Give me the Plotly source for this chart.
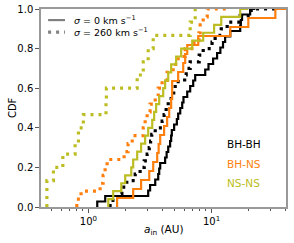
import numpy as np
import plotly.graph_objects as go

# Sorted inner semi-major axes (AU) for each population; CDF steps drawn from them
bhbh_s0 = [1.18, 1.37, 3.06, 3.17, 3.49, 3.69, 3.76, 3.83, 4.20, 4.32, 4.45, 4.61, 4.70,
           4.76, 4.97, 5.23, 5.36, 5.57, 5.78, 5.92, 6.35, 6.71, 7.10, 7.37, 8.89, 9.45,
           10.3, 11.1, 11.8, 12.4, 12.9, 14.2, 17.1, 17.3, 17.7, 20.6, 22.7]
bhbh_s260 = [1.50, 1.73, 1.87, 2.05, 2.40, 2.63, 2.84, 3.00, 3.12, 3.20, 3.27, 3.49, 3.97,
             4.12, 4.28, 4.45, 4.70, 4.93, 5.07, 6.05, 6.23, 6.71, 7.94, 8.56, 10.1, 10.7,
             12.0, 13.4, 17.1, 21.0, 35.5]
bhns_s0 = [1.71, 2.31, 2.68, 3.12, 3.36, 3.62, 3.72, 3.83, 4.12, 4.36, 4.53, 4.70, 4.79,
           4.79, 5.36, 5.89, 6.11, 6.35, 7.80, 14.2, 19.9, 33.0, 45.0]
bhns_s260 = [0.805, 0.872, 1.245, 1.317, 1.367, 1.419, 1.95, 2.10, 2.27, 2.79, 2.89, 3.00,
             3.17, 3.49, 3.69, 3.97, 4.36, 4.88, 5.36, 6.11, 7.21, 7.91, 8.09, 8.56, 9.23, 14.2]
nsns_s0 = [1.45, 1.59, 1.85, 1.99, 2.23, 2.31, 2.49, 2.68, 2.89, 3.06, 3.30, 3.42, 3.55,
           3.76, 4.05, 4.20, 4.45, 4.70, 5.16, 5.67, 6.97, 8.56, 10.5, 12.0, 17.1, 19.9]
nsns_s260 = [0.46, 0.46, 0.52, 0.62, 0.78, 0.83, 0.91, 1.39, 1.40, 2.49, 2.79, 3.06, 3.36,
             6.71, 7.37, 8.09]

populations = ["BH-BH", "BH-NS", "NS-NS"]
colors = ["#000000", "#ff7f0e", "#bcbd22"]
series = {"BH-BH": (bhbh_s0, bhbh_s260), "BH-NS": (bhns_s0, bhns_s260), "NS-NS": (nsns_s0, nsns_s260)}
legend_labels = ["<i>σ</i> = 0 km s<sup>−1</sup>", "<i>σ</i> = 260 km s<sup>−1</sup>"]
x_ticks = [1, 10]
x_ticktext = ["10<sup>0</sup>", "10<sup>1</sup>"]
x_minor = [0.5, 0.6, 0.7, 0.8, 0.9, 2, 3, 4, 5, 6, 7, 8, 9, 20, 30, 40]
y_ticks = [0.0, 0.2, 0.4, 0.6, 0.8, 1.0]

DOT = "3px,5px"
fig = go.Figure()
for pop, col in zip(populations, colors):
    s0, s260 = series[pop]
    for vals, dash, w in ((s0, "solid", 2.2), (s260, DOT, 3.2)):
        x = np.sort(np.array(vals))
        y = np.arange(len(x)) / (len(x) - 1)
        fig.add_trace(go.Scatter(x=x, y=y, mode="lines", line_shape="vh",
                                 line=dict(color=col, width=w, dash=dash),
                                 showlegend=False, hoverinfo="skip"))

FONT = "DejaVu Sans"
axis_col = "#999999"
fig.update_layout(
    width=294, height=243,
    margin=dict(l=41, r=8, t=9, b=36, autoexpand=False),
    paper_bgcolor="white", plot_bgcolor="white",
    font=dict(family=FONT, size=10, color="black"),
    showlegend=False,
)
fig.update_xaxes(type="log", range=[-0.385, 1.605], showgrid=False, zeroline=False,
                 automargin=False,
                 showline=True, mirror=True, linecolor=axis_col, linewidth=1.5,
                 ticks="outside", ticklen=4, tickwidth=1, tickcolor="#555555",
                 tickvals=x_ticks, ticktext=x_ticktext, tickfont=dict(size=10),
                 minor=dict(tickvals=x_minor, ticks="outside", ticklen=2,
                            tickcolor="#555555", tickwidth=0.8, showgrid=False))
fig.update_yaxes(range=[0, 1], showgrid=False, zeroline=False, automargin=False,
                 showline=True, mirror=True, linecolor=axis_col, linewidth=1.5,
                 ticks="outside", ticklen=4, tickwidth=1, tickcolor="#555555",
                 tickvals=y_ticks, tickformat=".1f", tickfont=dict(size=10))

# axis titles
fig.add_annotation(text="CDF", xref="paper", yref="paper", x=-0.118, y=0.5,
                   textangle=-90, showarrow=False, font=dict(size=10),
                   xanchor="center", yanchor="middle")
fig.add_annotation(text="<i>a</i><sub>in</sub> (AU)", xref="paper", yref="paper",
                   x=0.5, y=-0.118, showarrow=False, font=dict(size=10.5),
                   xanchor="center", yanchor="middle")

# legend for line styles
for i, (lab, dash, w) in enumerate(zip(legend_labels, ["solid", DOT], [2.2, 3.2])):
    yp = 0.944 - i * 0.061
    fig.add_shape(type="line", xref="paper", yref="paper", x0=0.029, x1=0.098,
                  y0=yp, y1=yp, line=dict(color="#808080", width=w, dash=dash))
    fig.add_annotation(text=lab, xref="paper", yref="paper", x=0.125, y=yp,
                       showarrow=False, xanchor="left", yanchor="middle",
                       font=dict(size=9.5))

# population labels
for i, (pop, col) in enumerate(zip(populations, colors)):
    fig.add_annotation(text=pop, xref="paper", yref="paper", x=0.751, y=0.318 - i * 0.099,
                       showarrow=False, xanchor="left", yanchor="middle",
                       font=dict(size=10.5, color=col))

fig.write_html("out.html", config={"displayModeBar": False},
               post_script="document.body.style.margin='0';document.body.style.padding='0';")
